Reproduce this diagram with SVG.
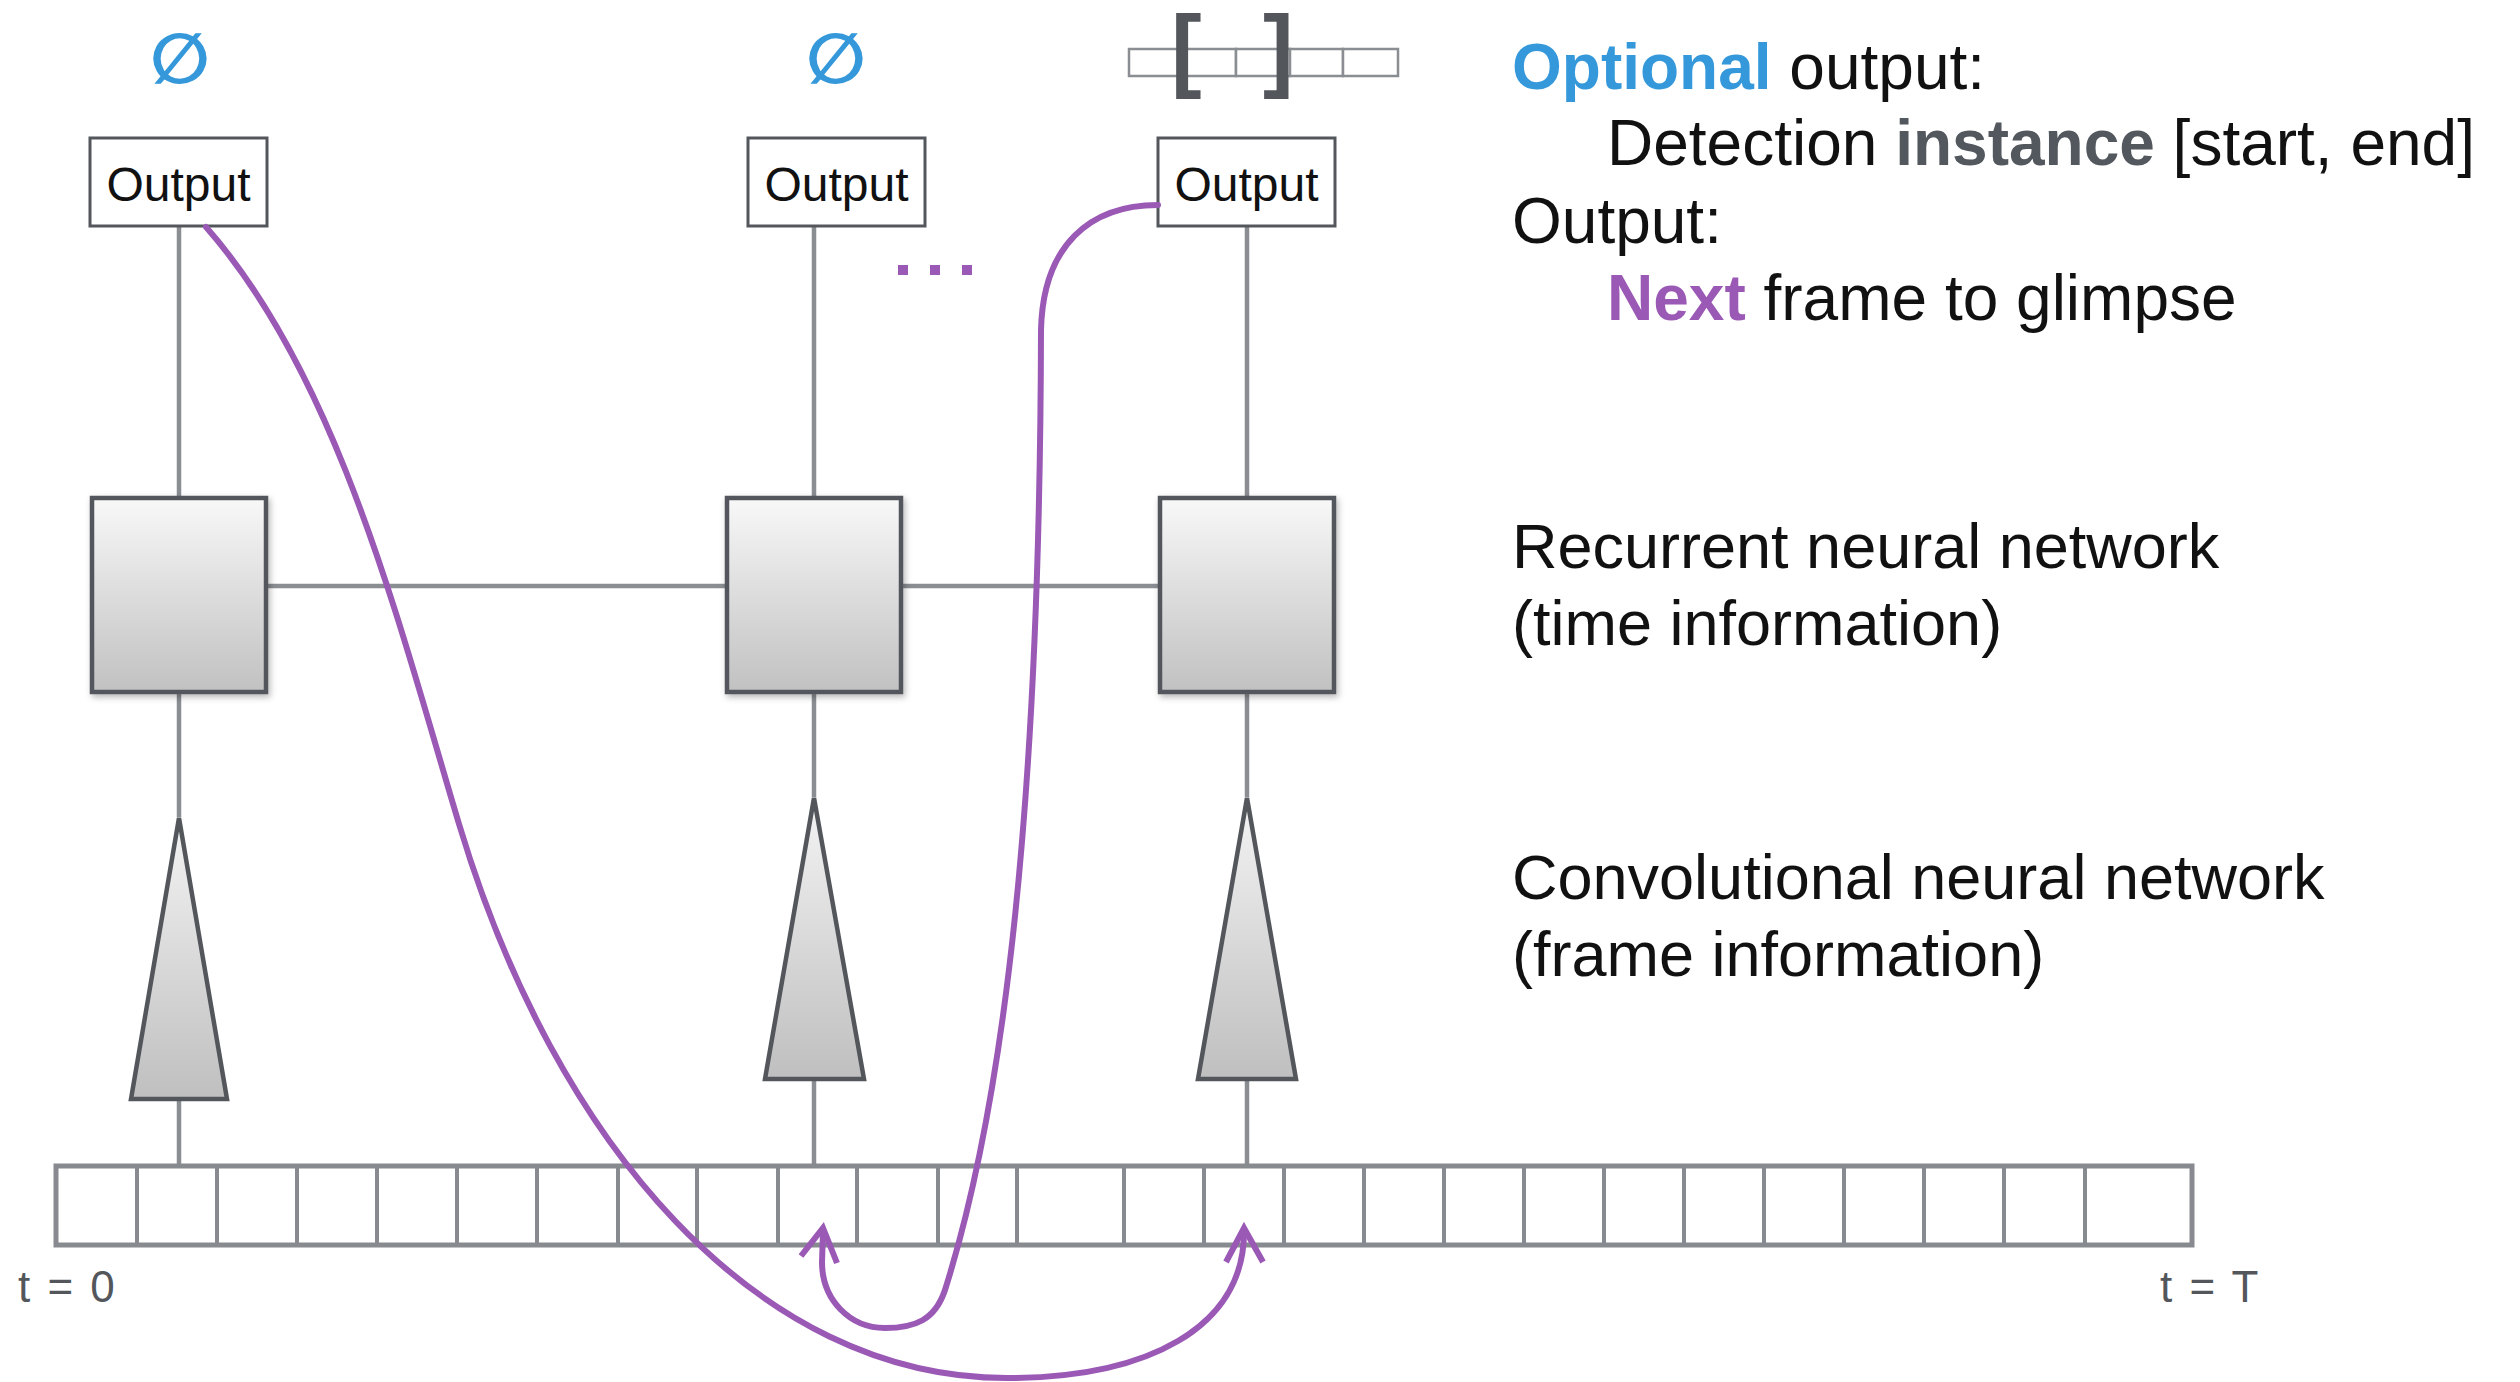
<svg xmlns="http://www.w3.org/2000/svg" width="2520" height="1382" viewBox="0 0 2520 1382">
  <defs>
    <linearGradient id="gradBox" x1="0" y1="0" x2="0" y2="1">
      <stop offset="0" stop-color="#f8f8f8"/>
      <stop offset="1" stop-color="#c1c1c1"/>
    </linearGradient>
    <linearGradient id="gradCone" x1="0" y1="0" x2="0" y2="1">
      <stop offset="0" stop-color="#f4f4f4"/>
      <stop offset="1" stop-color="#bfbfbf"/>
    </linearGradient>
    <filter id="shadow" x="-10%" y="-10%" width="125%" height="125%">
      <feDropShadow dx="2" dy="3" stdDeviation="3" flood-color="#000" flood-opacity="0.28"/>
    </filter>
    <style>
      .txt { font-family: "Liberation Sans", Arial, sans-serif; fill: #111; }
      .out { font-size: 48px; text-anchor: middle; }
      .label { font-size: 63px; }
      .head { font-size: 64px; }
      .tick { font-size: 44px; fill: #53575c; word-spacing: 5px; }
      .empty { font-family: "DejaVu Sans", sans-serif; font-weight: bold; font-size: 70px; fill: #3498db; text-anchor: middle; }
      .bracket { font-family: "Liberation Sans", Arial, sans-serif; font-weight: bold; font-size: 92px; fill: #53575c; }
      .outbox { fill: #fff; stroke: #53575c; stroke-width: 3; }
      .rnn { fill: url(#gradBox); stroke: #53575c; stroke-width: 4.5; filter: url(#shadow); }
      .cnn { fill: url(#gradCone); stroke: #53575c; stroke-width: 4.5; stroke-linejoin: miter; }
      .wire { stroke: #8a8d91; stroke-width: 4.5; fill: none; }
      .glimpse { stroke: #9b59b6; stroke-width: 6; fill: none; stroke-linecap: round; }
      .head-arrow { stroke: #9b59b6; stroke-width: 6; fill: none; stroke-linejoin: miter; }
      .cell { fill: #fff; stroke: #8a8d91; stroke-width: 2.5; }
      .strip { fill: #fff; stroke: #878a8e; stroke-width: 5; }
      .sep { stroke: #878a8e; stroke-width: 4; }
    </style>
  </defs>

  <rect width="2520" height="1382" fill="#fff"/>

  <!-- gray wiring between outputs, RNN cells, CNN cones and frames -->
  <g id="connectors">
    <line class="wire" x1="179" y1="227" x2="179" y2="498"/>
    <line class="wire" x1="179" y1="692" x2="179" y2="817"/>
    <line class="wire" x1="179" y1="1099" x2="179" y2="1166"/>
    <line class="wire" x1="814" y1="227" x2="814" y2="498"/>
    <line class="wire" x1="814" y1="692" x2="814" y2="797"/>
    <line class="wire" x1="814" y1="1079" x2="814" y2="1166"/>
    <line class="wire" x1="1247" y1="227" x2="1247" y2="498"/>
    <line class="wire" x1="1247" y1="692" x2="1247" y2="797"/>
    <line class="wire" x1="1247" y1="1079" x2="1247" y2="1166"/>
    <line class="wire" x1="266" y1="586" x2="727" y2="586"/>
    <line class="wire" x1="901" y1="586" x2="1160" y2="586"/>
  </g>

  <!-- frame sequence -->
  <g id="frames">
    <rect class="strip" x="56" y="1166" width="2136" height="79"/>
    <g class="sep">
      <line x1="137" y1="1166" x2="137" y2="1245"/>
      <line x1="217" y1="1166" x2="217" y2="1245"/>
      <line x1="297" y1="1166" x2="297" y2="1245"/>
      <line x1="377" y1="1166" x2="377" y2="1245"/>
      <line x1="457" y1="1166" x2="457" y2="1245"/>
      <line x1="537" y1="1166" x2="537" y2="1245"/>
      <line x1="618" y1="1166" x2="618" y2="1245"/>
      <line x1="697" y1="1166" x2="697" y2="1245"/>
      <line x1="778" y1="1166" x2="778" y2="1245"/>
      <line x1="857" y1="1166" x2="857" y2="1245"/>
      <line x1="938" y1="1166" x2="938" y2="1245"/>
      <line x1="1017" y1="1166" x2="1017" y2="1245"/>
      <line x1="1124" y1="1166" x2="1124" y2="1245"/>
      <line x1="1204" y1="1166" x2="1204" y2="1245"/>
      <line x1="1284" y1="1166" x2="1284" y2="1245"/>
      <line x1="1364" y1="1166" x2="1364" y2="1245"/>
      <line x1="1444" y1="1166" x2="1444" y2="1245"/>
      <line x1="1524" y1="1166" x2="1524" y2="1245"/>
      <line x1="1604" y1="1166" x2="1604" y2="1245"/>
      <line x1="1684" y1="1166" x2="1684" y2="1245"/>
      <line x1="1764" y1="1166" x2="1764" y2="1245"/>
      <line x1="1844" y1="1166" x2="1844" y2="1245"/>
      <line x1="1924" y1="1166" x2="1924" y2="1245"/>
      <line x1="2004" y1="1166" x2="2004" y2="1245"/>
      <line x1="2085" y1="1166" x2="2085" y2="1245"/>
    </g>
    <text class="txt tick" x="18" y="1302">t = 0</text>
    <text class="txt tick" x="2160" y="1302">t = T</text>
  </g>

  <!-- CNN cones -->
  <g id="cnn1"><polygon class="cnn" points="179,818 131,1099 227,1099"/></g>
  <g id="cnn2"><polygon class="cnn" points="814,798 765,1079 864,1079"/></g>
  <g id="cnn3"><polygon class="cnn" points="1247,798 1198,1079 1296,1079"/></g>

  <!-- RNN cells -->
  <g id="rnn1"><rect class="rnn" x="92" y="498" width="174" height="194"/></g>
  <g id="rnn2"><rect class="rnn" x="727" y="498" width="174" height="194"/></g>
  <g id="rnn3"><rect class="rnn" x="1160" y="498" width="174" height="194"/></g>

  <!-- output heads -->
  <g id="output1">
    <rect class="outbox" x="90" y="138" width="177" height="88"/>
    <text class="txt out" x="178.5" y="201">Output</text>
    <text class="empty" x="180" y="83">∅</text>
  </g>
  <g id="output2">
    <rect class="outbox" x="748" y="138" width="177" height="88"/>
    <text class="txt out" x="836.5" y="201">Output</text>
    <text class="empty" x="836" y="83">∅</text>
  </g>
  <g id="output3">
    <rect class="outbox" x="1158" y="138" width="177" height="88"/>
    <text class="txt out" x="1246.5" y="201">Output</text>
    <g id="detection">
      <rect class="cell" x="1129" y="49" width="55" height="27"/>
      <rect class="cell" x="1184" y="49" width="52" height="27"/>
      <rect class="cell" x="1236" y="49" width="54" height="27"/>
      <rect class="cell" x="1290" y="49" width="53" height="27"/>
      <rect class="cell" x="1343" y="49" width="55" height="27"/>
      <text class="bracket" x="1171" y="80">[</text>
      <text class="bracket" x="1263" y="80">]</text>
    </g>
  </g>

  <!-- ellipsis between time steps -->
  <g id="ellipsis" fill="#9b59b6">
    <rect x="898" y="265" width="10" height="10"/>
    <rect x="930" y="265" width="10" height="10"/>
    <rect x="962" y="265" width="10" height="10"/>
  </g>

  <!-- glimpse jumps -->
  <g id="glimpse-connectors">
    <path class="glimpse" d="M206,227 C338,377 399,624 459,824 C555,1144 757,1378 1007,1378 C1147,1378 1244,1328 1244,1232"/>
    <path class="head-arrow" d="M1226,1262 L1244,1228 L1263,1262"/>
    <path class="glimpse" d="M1158,205 C1090,205 1043,245 1041,330 C1040,800 1005,1100 945,1290 C935,1320 915,1328 885,1328 C850,1328 822,1300 822,1262 L823,1232"/>
    <path class="head-arrow" d="M801,1256 L823,1228 L837,1263"/>
  </g>

  <!-- legend -->
  <g id="legend">
    <text class="txt head" x="1512" y="89"><tspan font-weight="bold" fill="#3498db">Optional</tspan> output:</text>
    <text class="txt head" x="1607" y="165">Detection <tspan font-weight="bold" fill="#53585f">instance</tspan> [start, end]</text>
    <text class="txt head" x="1512" y="243">Output:</text>
    <text class="txt head" x="1607" y="320"><tspan font-weight="bold" fill="#9b59b6">Next</tspan> frame to glimpse</text>
    <text class="txt label" x="1512" y="568">Recurrent neural network</text>
    <text class="txt label" x="1512" y="645">(time information)</text>
    <text class="txt label" x="1512" y="899">Convolutional neural network</text>
    <text class="txt label" x="1512" y="976">(frame information)</text>
  </g>
</svg>
